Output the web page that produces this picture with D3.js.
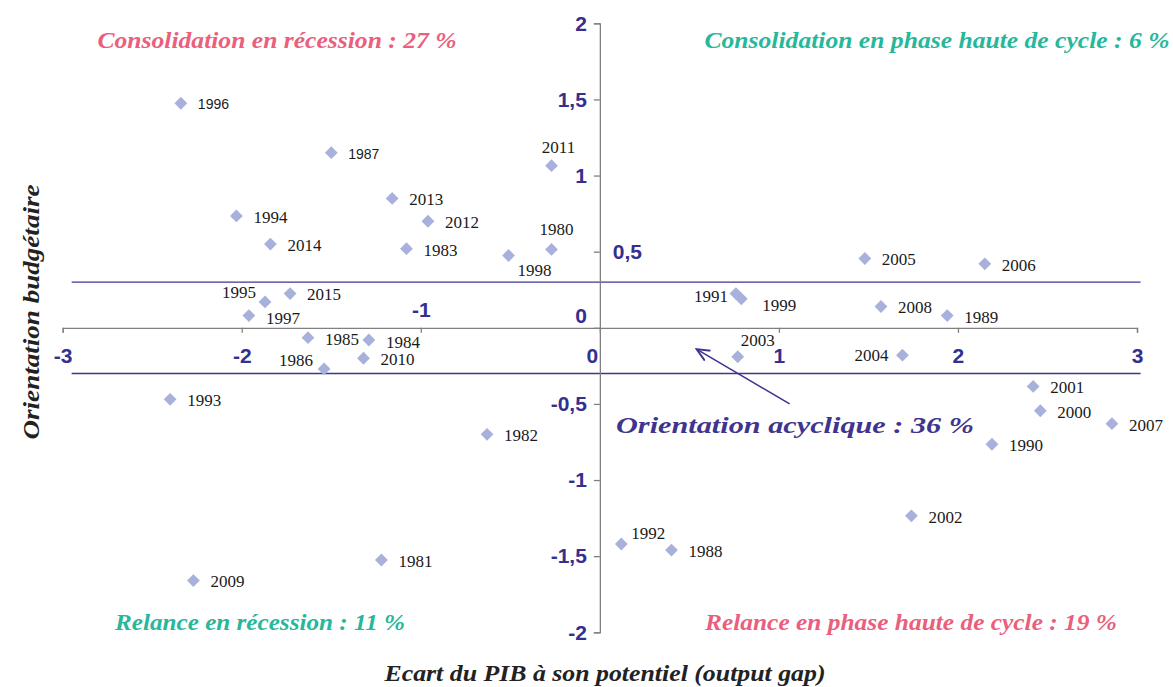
<!DOCTYPE html>
<html>
<head>
<meta charset="utf-8">
<script src="https://cdn.jsdelivr.net/npm/d3@7"></script>
<style>
  body { margin: 0; background: #fff; }
  svg { display: block; }
</style>
</head>
<body>
<svg id="chart" width="1173" height="687"></svg>
<script>
// years and their (output gap, budget orientation) coordinates
var years = [
  1996, 1987, 2011, 2013, 1994, 2012, 2014, 1983, 1998, 1980,
  1995, 2015, 1997, 1985, 1984, 2010, 1986, 1993, 1982, 1981,
  2009, 1992, 1988, 2002, 1990, 2000, 2001, 2007, 2003, 2004,
  1991, 1999, 2005, 2006, 2008, 1989
];
var outputGap = [
  -2.34, -1.50, -0.27, -1.16, -2.03, -0.96, -1.84, -1.08, -0.51, -0.27,
  -1.87, -1.73, -1.96, -1.63, -1.29, -1.32, -1.54, -2.40, -0.63, -1.22,
  -2.27, 0.12, 0.40, 1.74, 2.19, 2.46, 2.42, 2.86, 0.77, 1.69,
  0.76, 0.79, 1.48, 2.15, 1.57, 1.94
];
var budgetOrientation = [
  1.475, 1.15, 1.065, 0.85, 0.735, 0.70, 0.55, 0.52, 0.475, 0.515,
  0.17, 0.225, 0.08, -0.065, -0.08, -0.20, -0.27, -0.47, -0.70, -1.525,
  -1.66, -1.42, -1.46, -1.235, -0.765, -0.545, -0.385, -0.63, -0.19, -0.18,
  0.225, 0.19, 0.455, 0.42, 0.14, 0.08
];

var xTicks = [-3, -2, -1, 0, 1, 2, 3];
var yTicks = [-2, -1.5, -1, -0.5, 0, 0.5, 1, 1.5, 2];
var thresholds = [0.3, -0.3];
var thresholdSpan = [-2.95, 3.02];

var quadrantLabels = [
  "Consolidation en récession : 27 %",
  "Consolidation en phase haute de cycle : 6 %",
  "Relance en récession : 11 %",
  "Relance en phase haute de cycle : 19 %",
  "Orientation acyclique : 36 %"
];
var arrowFrom = [1.06, -0.5];
var arrowTo = [0.54, -0.14];

var PINK = '#ea5f7d', GREEN = '#27b79b', PURPLE = '#3f358f';
var SERIF = '"Liberation Serif", "DejaVu Serif", serif';
var SANS = '"Liberation Sans", Arial, sans-serif';

var svg = d3.select('#chart');

var x = d3.scaleLinear().domain([-3, 3]).range([62.7, 1137]);
var y = d3.scaleLinear().domain([-2, 2]).range([632.3, 23.3]);

var locale = d3.formatLocale({decimal: ',', thousands: ' ', grouping: [3], currency: ['', ' €'], minus: '-'});
var fmt = locale.format('~g');

// threshold lines (+/- 0.3)
svg.selectAll('.threshold').data(thresholds).enter().append('line')
    .attr('class', 'threshold')
    .attr('x1', x(thresholdSpan[0])).attr('x2', x(thresholdSpan[1]))
    .attr('y1', function(d) { return y(d); })
    .attr('y2', function(d) { return y(d); })
    .attr('stroke', PURPLE).attr('stroke-width', 1.3);

// axes crossing at the origin
var xAxis = svg.append('g')
    .attr('transform', 'translate(0,' + y(0) + ')')
    .call(d3.axisBottom(x).tickValues(xTicks).tickFormat(fmt)
        .tickSize(5).tickSizeOuter(5).tickPadding(15));

var yAxis = svg.append('g')
    .attr('transform', 'translate(' + x(0) + ',0)')
    .call(d3.axisLeft(y).tickValues(yTicks).tickFormat(fmt)
        .tickSize(6).tickSizeOuter(6).tickPadding(7));

[xAxis, yAxis].forEach(function(ax) {
  ax.selectAll('path, line').attr('stroke', '#808080').attr('stroke-width', 1.3);
  ax.selectAll('text')
      .attr('fill', '#34308f')
      .style('font-family', SANS)
      .style('font-weight', 'bold')
      .style('font-size', '21px');
});

// Excel moved a few tick labels out of the way
xAxis.selectAll('.tick text').each(function(d) {
  if (d === -1) d3.select(this).attr('y', -11).attr('dy', 0);
  if (d === 0) d3.select(this).attr('x', -8);
});
yAxis.selectAll('.tick text').each(function(d) {
  if (d === 0) d3.select(this).attr('y', -12);
  if (d === 0.5) d3.select(this).attr('text-anchor', 'start').attr('x', 13);
});

// points
var points = years.map(function(yr, i) {
  return {year: yr, gx: outputGap[i], gy: budgetOrientation[i]};
});

var diamond = d3.symbol().type(d3.symbolSquare).size(82);
svg.selectAll('.pt').data(points).enter().append('path')
    .attr('class', 'pt')
    .attr('d', diamond)
    .attr('transform', function(d) {
      return 'translate(' + x(d.gx) + ',' + y(d.gy) + ') rotate(45)';
    })
    .attr('fill', '#a8b1db');

// label placement: [anchor, dx, dy of text centre]
var placement = {
  2011: ['middle', 7, -19], 1980: ['middle', 5, -20], 1998: ['start', 9, 15],
  1995: ['end', -9, -10], 1986: ['end', -11, -9], 1991: ['end', -8, 3],
  1999: ['start', 21, 6], 2003: ['middle', 20, -17], 2004: ['end', -14, 0],
  1992: ['start', 10, -11], 1997: ['start', 17, 2], 1984: ['start', 17, 2]
};
var sansYears = [1996, 1987];

svg.selectAll('.lbl').data(points).enter().append('text')
    .attr('class', 'lbl')
    .attr('x', function(d) { var p = placement[d.year]; return x(d.gx) + (p ? p[1] : 17); })
    .attr('y', function(d) { var p = placement[d.year]; return y(d.gy) + (p ? p[2] : 1); })
    .attr('dy', '0.35em')
    .attr('text-anchor', function(d) { var p = placement[d.year]; return p ? p[0] : 'start'; })
    .style('font-family', function(d) { return sansYears.indexOf(d.year) >= 0 ? SANS : SERIF; })
    .style('font-size', function(d) { return sansYears.indexOf(d.year) >= 0 ? '14px' : '17px'; })
    .attr('fill', '#1a1a1a')
    .text(function(d) { return d.year; });

// quadrant captions: [centre x, baseline y, colour, width]
var captionPos = [
  [277, 48, PINK, 359], [937, 48, GREEN, 465], [260, 630, GREEN, 290],
  [911, 630, PINK, 412], [795, 433, PURPLE, 358]
];
svg.selectAll('.caption').data(quadrantLabels).enter().append('text')
    .attr('class', 'caption')
    .attr('x', function(d, i) { return captionPos[i][0]; })
    .attr('y', function(d, i) { return captionPos[i][1]; })
    .attr('text-anchor', 'middle')
    .attr('fill', function(d, i) { return captionPos[i][2]; })
    .attr('textLength', function(d, i) { return captionPos[i][3]; })
    .attr('lengthAdjust', 'spacingAndGlyphs')
    .style('font-family', SERIF)
    .style('font-style', 'italic')
    .style('font-weight', 'bold')
    .style('font-size', '24px')
    .text(function(d) { return d; });

// arrow for the acyclic caption
svg.append('defs').append('marker')
    .attr('id', 'head')
    .attr('viewBox', '0 0 10 10')
    .attr('refX', 9).attr('refY', 5)
    .attr('markerWidth', 9).attr('markerHeight', 9)
    .attr('orient', 'auto')
  .append('path')
    .attr('d', 'M0,1 L9,5 L0,9')
    .attr('fill', 'none')
    .attr('stroke', PURPLE)
    .attr('stroke-width', 1.3);

svg.append('line')
    .attr('x1', x(arrowFrom[0])).attr('y1', y(arrowFrom[1]))
    .attr('x2', x(arrowTo[0])).attr('y2', y(arrowTo[1]))
    .attr('stroke', PURPLE).attr('stroke-width', 1.6)
    .attr('marker-end', 'url(#head)');

// axis titles
svg.append('text')
    .attr('x', 605).attr('y', 681)
    .attr('text-anchor', 'middle')
    .attr('fill', '#222')
    .attr('textLength', 441).attr('lengthAdjust', 'spacingAndGlyphs')
    .style('font-family', SERIF).style('font-style', 'italic').style('font-weight', 'bold')
    .style('font-size', '23px')
    .text('Ecart du PIB à son potentiel (output gap)');

svg.append('text')
    .attr('transform', 'translate(39,312) rotate(-90)')
    .attr('text-anchor', 'middle')
    .attr('fill', '#222')
    .attr('textLength', 255).attr('lengthAdjust', 'spacingAndGlyphs')
    .style('font-family', SERIF).style('font-style', 'italic').style('font-weight', 'bold')
    .style('font-size', '23px')
    .text('Orientation budgétaire');
</script>
</body>
</html>
